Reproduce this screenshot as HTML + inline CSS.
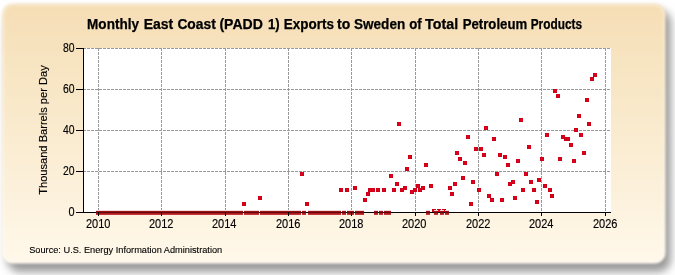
<!DOCTYPE html>
<html><head><meta charset="utf-8"><style>
html,body{margin:0;padding:0;background:#fff;}
body{width:675px;height:275px;overflow:hidden;}
svg{display:block;will-change:transform;font-family:"Liberation Sans",sans-serif;}
</style></head><body>
<svg width="675" height="275" viewBox="0 0 675 275">
<defs>
<linearGradient id="bg" x1="0" y1="0" x2="0" y2="1">
<stop offset="0" stop-color="#F5DEB5"/>
<stop offset="1" stop-color="#FFF8EA"/>
</linearGradient>
<filter id="sh" x="-5%" y="-10%" width="115%" height="125%">
<feGaussianBlur stdDeviation="4"/>
</filter>
<filter id="soft" x="-2%" y="-2%" width="104%" height="104%">
<feGaussianBlur stdDeviation="0.9"/>
</filter>
</defs>
<rect x="7" y="10" width="664" height="262" rx="13" ry="13" fill="#9a9a9a" filter="url(#sh)"/>
<g filter="url(#soft)"><rect x="2" y="3.5" width="663.5" height="260" rx="11" ry="11" fill="url(#bg)"/>
<rect x="3.5" y="5" width="660.5" height="257" rx="10" ry="10" fill="none" stroke="#fff" stroke-opacity="0.4" stroke-width="1.6"/></g>
<rect x="83" y="48" width="528" height="164" fill="#fff"/>
<g stroke="#9a9a9a" stroke-width="1" stroke-dasharray="3 1" fill="none">
<line x1="98.5" y1="48" x2="98.5" y2="212"/>
<line x1="161.5" y1="48" x2="161.5" y2="212"/>
<line x1="225.5" y1="48" x2="225.5" y2="212"/>
<line x1="288.5" y1="48" x2="288.5" y2="212"/>
<line x1="351.5" y1="48" x2="351.5" y2="212"/>
<line x1="415.5" y1="48" x2="415.5" y2="212"/>
<line x1="478.5" y1="48" x2="478.5" y2="212"/>
<line x1="541.5" y1="48" x2="541.5" y2="212"/>
<line x1="605.5" y1="48" x2="605.5" y2="212"/>
<line x1="83" y1="171.5" x2="611" y2="171.5"/>
<line x1="83" y1="130.5" x2="611" y2="130.5"/>
<line x1="83" y1="89.5" x2="611" y2="89.5"/>
<line x1="83" y1="48.5" x2="611" y2="48.5"/>
</g>
<g fill="#E4001C" stroke="#CC0018" stroke-width="1">
<rect x="242.5" y="202.5" width="3" height="3"/>
<rect x="258.5" y="196.5" width="3" height="3"/>
<rect x="300.5" y="172.5" width="3" height="3"/>
<rect x="305.5" y="202.5" width="3" height="3"/>
<rect x="339.5" y="188.5" width="3" height="3"/>
<rect x="345.5" y="188.5" width="3" height="3"/>
<rect x="353.5" y="186.5" width="3" height="3"/>
<rect x="363.5" y="198.5" width="3" height="3"/>
<rect x="366.5" y="192.5" width="3" height="3"/>
<rect x="368.5" y="188.5" width="3" height="3"/>
<rect x="371.5" y="188.5" width="3" height="3"/>
<rect x="376.5" y="188.5" width="3" height="3"/>
<rect x="382.5" y="188.5" width="3" height="3"/>
<rect x="389.5" y="174.5" width="3" height="3"/>
<rect x="392.5" y="188.5" width="3" height="3"/>
<rect x="395.5" y="182.5" width="3" height="3"/>
<rect x="397.5" y="122.5" width="3" height="3"/>
<rect x="400.5" y="188.5" width="3" height="3"/>
<rect x="403.5" y="186.5" width="3" height="3"/>
<rect x="405.5" y="167.5" width="3" height="3"/>
<rect x="408.5" y="155.5" width="3" height="3"/>
<rect x="410.5" y="190.5" width="3" height="3"/>
<rect x="413.5" y="188.5" width="3" height="3"/>
<rect x="416.5" y="184.5" width="3" height="3"/>
<rect x="418.5" y="188.5" width="3" height="3"/>
<rect x="421.5" y="186.5" width="3" height="3"/>
<rect x="424.5" y="163.5" width="3" height="3"/>
<rect x="429.5" y="184.5" width="3" height="3"/>
<rect x="432.5" y="209.5" width="3" height="3"/>
<rect x="437.5" y="209.5" width="3" height="3"/>
<rect x="442.5" y="209.5" width="3" height="3"/>
<rect x="448.5" y="186.5" width="3" height="3"/>
<rect x="450.5" y="192.5" width="3" height="3"/>
<rect x="453.5" y="182.5" width="3" height="3"/>
<rect x="455.5" y="151.5" width="3" height="3"/>
<rect x="458.5" y="157.5" width="3" height="3"/>
<rect x="461.5" y="176.5" width="3" height="3"/>
<rect x="463.5" y="161.5" width="3" height="3"/>
<rect x="466.5" y="135.5" width="3" height="3"/>
<rect x="469.5" y="202.5" width="3" height="3"/>
<rect x="471.5" y="180.5" width="3" height="3"/>
<rect x="474.5" y="147.5" width="3" height="3"/>
<rect x="477.5" y="188.5" width="3" height="3"/>
<rect x="479.5" y="147.5" width="3" height="3"/>
<rect x="482.5" y="153.5" width="3" height="3"/>
<rect x="484.5" y="126.5" width="3" height="3"/>
<rect x="487.5" y="194.5" width="3" height="3"/>
<rect x="490.5" y="198.5" width="3" height="3"/>
<rect x="492.5" y="137.5" width="3" height="3"/>
<rect x="495.5" y="172.5" width="3" height="3"/>
<rect x="498.5" y="153.5" width="3" height="3"/>
<rect x="500.5" y="198.5" width="3" height="3"/>
<rect x="503.5" y="155.5" width="3" height="3"/>
<rect x="506.5" y="163.5" width="3" height="3"/>
<rect x="508.5" y="182.5" width="3" height="3"/>
<rect x="511.5" y="180.5" width="3" height="3"/>
<rect x="513.5" y="196.5" width="3" height="3"/>
<rect x="516.5" y="159.5" width="3" height="3"/>
<rect x="519.5" y="118.5" width="3" height="3"/>
<rect x="521.5" y="188.5" width="3" height="3"/>
<rect x="524.5" y="172.5" width="3" height="3"/>
<rect x="527.5" y="145.5" width="3" height="3"/>
<rect x="529.5" y="180.5" width="3" height="3"/>
<rect x="532.5" y="188.5" width="3" height="3"/>
<rect x="535.5" y="200.5" width="3" height="3"/>
<rect x="537.5" y="178.5" width="3" height="3"/>
<rect x="540.5" y="157.5" width="3" height="3"/>
<rect x="543.5" y="184.5" width="3" height="3"/>
<rect x="545.5" y="133.5" width="3" height="3"/>
<rect x="548.5" y="188.5" width="3" height="3"/>
<rect x="550.5" y="194.5" width="3" height="3"/>
<rect x="553.5" y="89.5" width="3" height="3"/>
<rect x="556.5" y="94.5" width="3" height="3"/>
<rect x="558.5" y="157.5" width="3" height="3"/>
<rect x="561.5" y="135.5" width="3" height="3"/>
<rect x="564.5" y="137.5" width="3" height="3"/>
<rect x="566.5" y="137.5" width="3" height="3"/>
<rect x="569.5" y="143.5" width="3" height="3"/>
<rect x="572.5" y="159.5" width="3" height="3"/>
<rect x="574.5" y="128.5" width="3" height="3"/>
<rect x="577.5" y="114.5" width="3" height="3"/>
<rect x="579.5" y="133.5" width="3" height="3"/>
<rect x="582.5" y="151.5" width="3" height="3"/>
<rect x="585.5" y="98.5" width="3" height="3"/>
<rect x="587.5" y="122.5" width="3" height="3"/>
<rect x="590.5" y="77.5" width="3" height="3"/>
<rect x="593.5" y="73.5" width="3" height="3"/>
</g>
<g stroke="#000" stroke-width="1" fill="none">
<line x1="83.5" y1="48" x2="83.5" y2="212.5"/>
<line x1="83" y1="212.5" x2="611" y2="212.5"/>
</g>
<rect x="96" y="210" width="147" height="1" fill="#F4D8D8"/><rect x="96" y="211" width="147" height="1" fill="#961018"/><rect x="96" y="212" width="147" height="1" fill="#640810"/><rect x="96" y="213" width="147" height="1" fill="#B01A1C"/><rect x="96" y="214" width="147" height="1" fill="#C43636"/><rect x="244" y="210" width="15" height="1" fill="#F4D8D8"/><rect x="244" y="211" width="15" height="1" fill="#961018"/><rect x="244" y="212" width="15" height="1" fill="#640810"/><rect x="244" y="213" width="15" height="1" fill="#B01A1C"/><rect x="244" y="214" width="15" height="1" fill="#C43636"/><rect x="260" y="210" width="41" height="1" fill="#F4D8D8"/><rect x="260" y="211" width="41" height="1" fill="#961018"/><rect x="260" y="212" width="41" height="1" fill="#640810"/><rect x="260" y="213" width="41" height="1" fill="#B01A1C"/><rect x="260" y="214" width="41" height="1" fill="#C43636"/><rect x="302" y="210" width="4" height="1" fill="#F4D8D8"/><rect x="302" y="211" width="4" height="1" fill="#961018"/><rect x="302" y="212" width="4" height="1" fill="#640810"/><rect x="302" y="213" width="4" height="1" fill="#B01A1C"/><rect x="302" y="214" width="4" height="1" fill="#C43636"/><rect x="308" y="210" width="33" height="1" fill="#F4D8D8"/><rect x="308" y="211" width="33" height="1" fill="#961018"/><rect x="308" y="212" width="33" height="1" fill="#640810"/><rect x="308" y="213" width="33" height="1" fill="#B01A1C"/><rect x="308" y="214" width="33" height="1" fill="#C43636"/><rect x="342" y="210" width="4" height="1" fill="#F4D8D8"/><rect x="342" y="211" width="4" height="1" fill="#961018"/><rect x="342" y="212" width="4" height="1" fill="#640810"/><rect x="342" y="213" width="4" height="1" fill="#B01A1C"/><rect x="342" y="214" width="4" height="1" fill="#C43636"/><rect x="347" y="210" width="7" height="1" fill="#F4D8D8"/><rect x="347" y="211" width="7" height="1" fill="#961018"/><rect x="347" y="212" width="7" height="1" fill="#640810"/><rect x="347" y="213" width="7" height="1" fill="#B01A1C"/><rect x="347" y="214" width="7" height="1" fill="#C43636"/><rect x="355" y="210" width="9" height="1" fill="#F4D8D8"/><rect x="355" y="211" width="9" height="1" fill="#961018"/><rect x="355" y="212" width="9" height="1" fill="#640810"/><rect x="355" y="213" width="9" height="1" fill="#B01A1C"/><rect x="355" y="214" width="9" height="1" fill="#C43636"/><rect x="374" y="210" width="4" height="1" fill="#F4D8D8"/><rect x="374" y="211" width="4" height="1" fill="#961018"/><rect x="374" y="212" width="4" height="1" fill="#640810"/><rect x="374" y="213" width="4" height="1" fill="#B01A1C"/><rect x="374" y="214" width="4" height="1" fill="#C43636"/><rect x="379" y="210" width="4" height="1" fill="#F4D8D8"/><rect x="379" y="211" width="4" height="1" fill="#961018"/><rect x="379" y="212" width="4" height="1" fill="#640810"/><rect x="379" y="213" width="4" height="1" fill="#B01A1C"/><rect x="379" y="214" width="4" height="1" fill="#C43636"/><rect x="384" y="210" width="7" height="1" fill="#F4D8D8"/><rect x="384" y="211" width="7" height="1" fill="#961018"/><rect x="384" y="212" width="7" height="1" fill="#640810"/><rect x="384" y="213" width="7" height="1" fill="#B01A1C"/><rect x="384" y="214" width="7" height="1" fill="#C43636"/><rect x="426" y="210" width="4" height="1" fill="#F4D8D8"/><rect x="426" y="211" width="4" height="1" fill="#961018"/><rect x="426" y="212" width="4" height="1" fill="#640810"/><rect x="426" y="213" width="4" height="1" fill="#B01A1C"/><rect x="426" y="214" width="4" height="1" fill="#C43636"/><rect x="434" y="210" width="4" height="1" fill="#F4D8D8"/><rect x="434" y="211" width="4" height="1" fill="#961018"/><rect x="434" y="212" width="4" height="1" fill="#640810"/><rect x="434" y="213" width="4" height="1" fill="#B01A1C"/><rect x="434" y="214" width="4" height="1" fill="#C43636"/><rect x="440" y="210" width="4" height="1" fill="#F4D8D8"/><rect x="440" y="211" width="4" height="1" fill="#961018"/><rect x="440" y="212" width="4" height="1" fill="#640810"/><rect x="440" y="213" width="4" height="1" fill="#B01A1C"/><rect x="440" y="214" width="4" height="1" fill="#C43636"/><rect x="445" y="210" width="4" height="1" fill="#F4D8D8"/><rect x="445" y="211" width="4" height="1" fill="#961018"/><rect x="445" y="212" width="4" height="1" fill="#640810"/><rect x="445" y="213" width="4" height="1" fill="#B01A1C"/><rect x="445" y="214" width="4" height="1" fill="#C43636"/>
<g stroke="#000" stroke-width="1" fill="none">
<line x1="98.5" y1="212" x2="98.5" y2="216"/>
<line x1="161.5" y1="212" x2="161.5" y2="216"/>
<line x1="225.5" y1="212" x2="225.5" y2="216"/>
<line x1="288.5" y1="212" x2="288.5" y2="216"/>
<line x1="351.5" y1="212" x2="351.5" y2="216"/>
<line x1="415.5" y1="212" x2="415.5" y2="216"/>
<line x1="478.5" y1="212" x2="478.5" y2="216"/>
<line x1="541.5" y1="212" x2="541.5" y2="216"/>
<line x1="605.5" y1="212" x2="605.5" y2="216"/>
<line x1="76" y1="212.5" x2="83" y2="212.5"/>
<line x1="76" y1="171.5" x2="83" y2="171.5"/>
<line x1="76" y1="130.5" x2="83" y2="130.5"/>
<line x1="76" y1="89.5" x2="83" y2="89.5"/>
<line x1="76" y1="48.5" x2="83" y2="48.5"/>
</g>
<g font-size="13.9" font-weight="bold" fill="#000" stroke="#000" stroke-width="0.25"><text x="87.1" y="28.8" textLength="51.9" lengthAdjust="spacingAndGlyphs">Monthly</text><text x="143.7" y="28.8" textLength="29.6" lengthAdjust="spacingAndGlyphs">East</text><text x="177.4" y="28.8" textLength="38.4" lengthAdjust="spacingAndGlyphs">Coast</text><text x="219.4" y="28.8" textLength="43.4" lengthAdjust="spacingAndGlyphs">(PADD</text><text x="267.9" y="28.8" textLength="11.7" lengthAdjust="spacingAndGlyphs">1)</text><text x="283.8" y="28.8" textLength="50.1" lengthAdjust="spacingAndGlyphs">Exports</text><text x="337.0" y="28.8" textLength="13.2" lengthAdjust="spacingAndGlyphs">to</text><text x="354.0" y="28.8" textLength="51.2" lengthAdjust="spacingAndGlyphs">Sweden</text><text x="409.2" y="28.8" textLength="12.5" lengthAdjust="spacingAndGlyphs">of</text><text x="425.1" y="28.8" textLength="33.0" lengthAdjust="spacingAndGlyphs">Total</text><text x="462.7" y="28.8" textLength="64.5" lengthAdjust="spacingAndGlyphs">Petroleum</text><text x="530.7" y="28.8" textLength="51.3" lengthAdjust="spacingAndGlyphs">Products</text></g>
<g font-size="12" fill="#000" stroke="#000" stroke-width="0.15">
<text x="86.0" y="228" textLength="24.5" lengthAdjust="spacingAndGlyphs">2010</text>
<text x="149.0" y="228" textLength="24.5" lengthAdjust="spacingAndGlyphs">2012</text>
<text x="212.0" y="228" textLength="24.5" lengthAdjust="spacingAndGlyphs">2014</text>
<text x="276.0" y="228" textLength="24.5" lengthAdjust="spacingAndGlyphs">2016</text>
<text x="339.0" y="228" textLength="24.5" lengthAdjust="spacingAndGlyphs">2018</text>
<text x="402.0" y="228" textLength="24.5" lengthAdjust="spacingAndGlyphs">2020</text>
<text x="466.0" y="228" textLength="24.5" lengthAdjust="spacingAndGlyphs">2022</text>
<text x="529.0" y="228" textLength="24.5" lengthAdjust="spacingAndGlyphs">2024</text>
<text x="593.0" y="228" textLength="24.5" lengthAdjust="spacingAndGlyphs">2026</text>
<text x="68.4" y="216" textLength="6.1" lengthAdjust="spacingAndGlyphs">0</text>
<text x="62.9" y="175" textLength="11.6" lengthAdjust="spacingAndGlyphs">20</text>
<text x="62.9" y="134" textLength="11.6" lengthAdjust="spacingAndGlyphs">40</text>
<text x="62.9" y="93" textLength="11.6" lengthAdjust="spacingAndGlyphs">60</text>
<text x="62.9" y="52" textLength="11.6" lengthAdjust="spacingAndGlyphs">80</text>
</g>
<text transform="translate(47.0,194.8) rotate(-90)" font-size="11.5" fill="#000" stroke="#000" stroke-width="0.15" textLength="129.5" lengthAdjust="spacingAndGlyphs">Thousand Barrels per Day</text>
<text x="29.2" y="253" font-size="9.7" fill="#000" stroke="#000" stroke-width="0.12" textLength="193" lengthAdjust="spacingAndGlyphs">Source: U.S. Energy Information Administration</text>
</svg>
</body></html>
